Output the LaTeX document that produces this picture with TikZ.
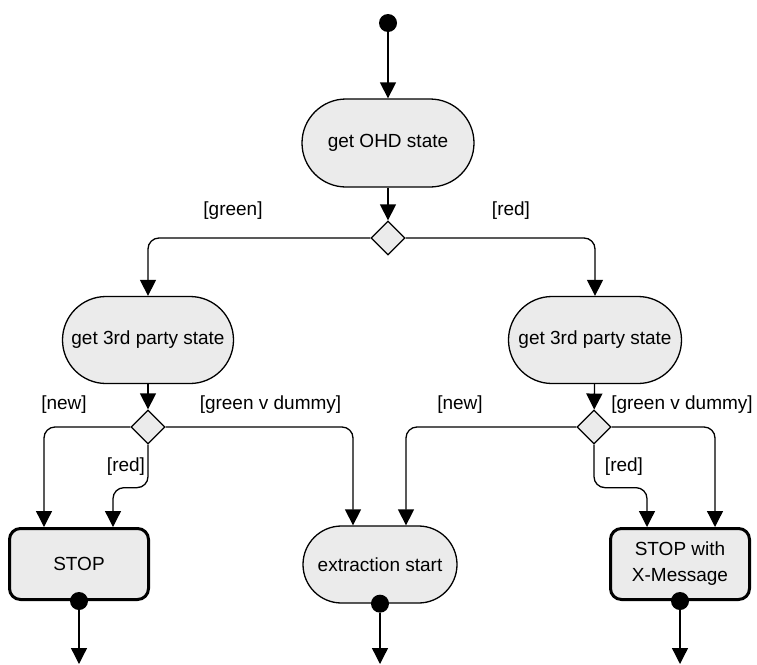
\documentclass[tikz,border=0pt]{standalone}
\usepackage{fontspec}
\setmainfont{Liberation Sans}
\usetikzlibrary{arrows.meta,shapes.geometric}
\definecolor{boxfill}{RGB}{235,235,235}
\tikzset{
  base/.style={x=1pt,y=-1pt},
  txt/.style={font=\fontsize{19}{26}\selectfont},
  action/.style={draw,fill=boxfill,line width=1.3pt,rounded corners=#1,inner sep=0pt,txt,align=center},
  stopbox/.style={draw,fill=boxfill,line width=3pt,rounded corners=11pt,inner sep=0pt,txt,align=center,minimum width=139pt,minimum height=71pt},
  decision/.style={draw,fill=boxfill,diamond,line width=1.3pt,inner sep=0pt,minimum width=34pt,minimum height=34pt},
  dot/.style={circle,fill=black,inner sep=0pt,minimum size=18pt},
  arr/.style={line width=1.3pt,-{Triangle[width=16pt,length=16pt]},rounded corners=11pt},
  lbl/.style={txt,inner sep=0pt}
}
\begin{document}
\begin{tikzpicture}[base]
\useasboundingbox (0,0) rectangle (757,664);
% nodes
\node[dot] (start) at (388,23) {};
\node[action=44pt,minimum width=172pt,minimum height=88pt] (ohd) at (388,143) {get OHD state};
\node[decision] (d1) at (388,238) {};
\node[action=43.5pt,minimum width=171pt,minimum height=87pt] (l3) at (148,340) {get 3rd party state};
\node[action=43.5pt,minimum width=173pt,minimum height=87pt] (r3) at (595,340) {get 3rd party state};
\node[decision] (d2) at (148,427) {};
\node[decision] (d3) at (594,427) {};
\node[stopbox] (stop) at (79,564) {STOP};
\node[action=38.5pt,minimum width=154pt,minimum height=77pt] (ext) at (380,564.5) {extraction start};
\node[stopbox] (stopx) at (680,564) {STOP with\\X-Message};
\node[dot] (e1) at (stop.south) {};
\node[dot] (e2) at (ext.south) {};
\node[dot] (e3) at (stopx.south) {};
\coordinate (o1) at (79,664);
\coordinate (o2) at (380,664);
\coordinate (o3) at (680,664);
% connectors
\draw[arr] (start) -- (ohd);
\draw[arr] (ohd) -- (d1);
\draw[arr] (d1.west) -| (l3.north);
\draw[arr] (d1.east) -| (r3.north);
\draw[arr] (l3) -- (d2);
\draw[arr] (r3) -- (d3);
\draw[arr] (d2.west) -| ([xshift=-35pt]stop.north);
\draw[arr] (d2.south) -- ++(0,43) -| ([xshift=34pt]stop.north);
\draw[arr] (d2.east) -| ([xshift=-27pt]ext.north);
\draw[arr] (d3.west) -| ([xshift=26pt]ext.north);
\draw[arr] (d3.south) -- ++(0,43) -| ([xshift=-33pt]stopx.north);
\draw[arr] (d3.east) -| ([xshift=35pt]stopx.north);
\draw[arr] (e1) -- (o1);
\draw[arr] (e2) -- (o2);
\draw[arr] (e3) -- (o3);
% labels
\node[lbl] (lg) at (233,211) {[green]};
\node[lbl] (lr) at (511,211) {[red]};
\node[lbl] (ln1) at (64,405) {[new]};
\node[lbl] (lgd1) at (270.5,405) {[green v dummy]};
\node[lbl] (lr1) at (126,467) {[red]};
\node[lbl] (ln2) at (460,405) {[new]};
\node[lbl] (lgd2) at (682,405) {[green v dummy]};
\node[lbl] (lr2) at (624,467) {[red]};
\end{tikzpicture}
\end{document}
